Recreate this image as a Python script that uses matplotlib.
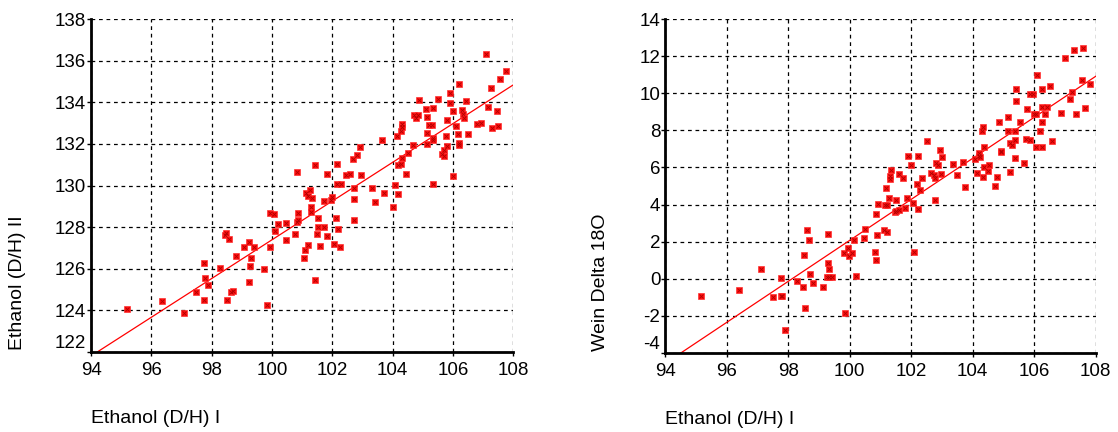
import matplotlib
matplotlib.use("Agg")
import matplotlib.pyplot as plt
import numpy as np

plt.rcParams['font.family'] = ['Liberation Sans', 'DejaVu Sans']
plt.rcParams['axes.unicode_minus'] = False

# Ethanol (D/H) I  vs  Ethanol (D/H) II
x_left = [95.18, 96.34, 97.09, 97.48, 97.74, 97.76, 97.78, 97.88, 98.27, 98.44,
          98.47, 98.50, 98.59, 98.64, 98.71, 98.80, 99.07, 99.23, 99.25, 99.26,
          99.30, 99.42, 99.75, 99.83, 99.93, 99.94, 100.07, 100.11, 100.19, 100.46,
          100.47, 100.78, 100.82, 100.86, 100.87, 100.82, 101.07, 101.11, 101.12, 101.19,
          101.21, 101.25, 101.29, 101.29, 101.34, 101.42, 101.43, 101.50, 101.53, 101.53,
          101.61, 101.72, 101.74, 101.82, 101.84, 101.95, 102.00, 102.05, 102.14, 102.15,
          102.17, 102.19, 102.27, 102.30, 102.46, 102.60, 102.69, 102.72, 102.72, 102.73,
          102.83, 102.91, 102.96, 103.32, 103.43, 103.65, 103.71, 104.03, 104.08, 104.14,
          104.18, 104.19, 104.27, 104.27, 104.31, 104.31, 104.31, 104.43, 104.50, 104.67,
          104.72, 104.79, 104.86, 104.87, 105.11, 105.13, 105.13, 105.14, 105.20, 105.30,
          105.33, 105.33, 105.35, 105.35, 105.51, 105.65, 105.69, 105.71, 105.77, 105.81,
          105.82, 105.90, 105.92, 106.02, 106.02, 106.10, 106.17, 106.20, 106.20, 106.20,
          106.31, 106.33, 106.36, 106.43, 106.50, 106.79, 106.93, 107.10, 107.17, 107.26,
          107.30, 107.47, 107.51, 107.57, 107.75]
y_left = [124.09, 124.44, 123.88, 124.91, 124.52, 126.29, 125.55, 125.21, 126.06, 127.62,
          127.70, 124.52, 127.43, 124.88, 124.94, 126.61, 127.03, 125.36, 127.27, 126.14,
          126.50, 127.06, 125.99, 124.28, 128.70, 127.06, 128.64, 127.80, 128.14, 128.20,
          127.38, 127.65, 128.25, 128.35, 128.70, 130.67, 126.53, 126.88, 129.63, 129.50,
          127.14, 129.79, 128.96, 128.71, 129.39, 125.47, 131.01, 127.65, 128.43, 128.02,
          127.09, 129.26, 127.99, 127.59, 130.56, 129.29, 129.44, 127.19, 128.42, 131.05,
          130.08, 127.93, 127.06, 130.08, 130.52, 130.54, 131.29, 129.34, 128.36, 129.90,
          131.45, 131.85, 130.52, 129.86, 129.23, 132.17, 129.66, 128.96, 130.03, 132.40,
          130.98, 129.57, 132.64, 131.03, 132.97, 132.83, 131.32, 130.54, 131.56, 131.93,
          133.39, 133.26, 133.39, 134.13, 133.66, 133.29, 132.01, 132.52, 132.93, 132.93,
          132.30, 130.08, 133.71, 132.17, 134.16, 131.51, 131.69, 131.41, 132.38, 131.88,
          133.17, 133.95, 134.43, 133.57, 130.48, 132.88, 132.46, 134.90, 132.04, 131.93,
          133.61, 133.45, 133.26, 134.05, 132.46, 132.97, 133.02, 136.30, 133.76, 134.67,
          132.75, 133.58, 132.84, 135.11, 135.48]

# Ethanol (D/H) I  vs  Wein Delta 18O
x_right = [95.18, 96.39, 97.12, 97.52, 97.76, 97.81, 97.78, 97.89, 98.29, 98.49,
           98.52, 98.54, 98.61, 98.69, 98.72, 98.81, 99.12, 99.27, 99.28, 99.28,
           99.34, 99.34, 99.44, 99.80, 99.85, 99.95, 99.97, 100.09, 100.15, 100.21,
           100.48, 100.49, 100.81, 100.85, 100.87, 100.88, 100.91, 101.11, 101.16, 101.18,
           101.22, 101.23, 101.29, 101.31, 101.31, 101.36, 101.49, 101.52, 101.52, 101.60,
           101.62, 101.73, 101.79, 101.86, 101.89, 101.99, 102.07, 102.09, 102.19, 102.23,
           102.23, 102.30, 102.34, 102.51, 102.65, 102.75, 102.76, 102.77, 102.80, 102.88,
           102.93, 102.97, 103.01, 103.36, 103.48, 103.70, 103.76, 104.09, 104.14, 104.19,
           104.21, 104.24, 104.30, 104.35, 104.35, 104.36, 104.36, 104.49, 104.54, 104.74,
           104.78, 104.85, 104.91, 104.92, 105.16, 105.16, 105.21, 105.21, 105.29, 105.37,
           105.37, 105.38, 105.41, 105.42, 105.55, 105.68, 105.75, 105.78, 105.85, 105.86,
           105.96, 105.99, 106.07, 106.07, 106.08, 106.18, 106.24, 106.24, 106.26, 106.27,
           106.36, 106.42, 106.52, 106.57, 106.87, 106.99, 107.16, 107.23, 107.30, 107.37,
           107.55, 107.59, 107.64, 107.82]
y_right = [-0.92, -0.60, 0.53, -0.98, -0.94, -0.94, 0.05, -2.76, -0.10, -0.46,
           1.28, -1.57, 2.63, 2.11, 0.28, -0.21, -0.42, 0.08, 2.43, 0.87,
           0.55, 0.08, 0.08, 1.39, -1.82, 1.64, 1.21, 1.38, 2.09, 0.17,
           2.18, 2.67, 1.45, 3.49, 1.03, 2.36, 4.03, 2.61, 3.96, 4.88,
           3.96, 2.54, 4.37, 5.52, 5.40, 5.86, 3.60, 3.66, 4.23, 3.71,
           5.67, 5.45, 3.80, 4.34, 6.60, 6.13, 4.10, 1.43, 5.13, 6.60,
           3.76, 4.80, 5.45, 7.43, 5.72, 5.58, 4.26, 5.42, 6.26, 6.13,
           6.94, 5.65, 6.56, 6.21, 5.58, 6.30, 4.93, 6.44, 5.69, 6.62,
           6.76, 6.58, 7.95, 8.16, 5.47, 7.12, 6.01, 5.83, 6.13, 4.99,
           5.47, 8.47, 6.89, 6.82, 8.70, 7.98, 7.30, 5.74, 7.21, 7.95,
           6.51, 7.48, 10.23, 9.57, 8.47, 6.22, 7.53, 9.15, 9.94, 7.48,
           9.94, 8.88, 8.90, 7.12, 10.97, 7.98, 8.43, 7.09, 10.23, 9.27,
           8.90, 9.27, 10.41, 7.43, 8.94, 11.92, 9.67, 10.07, 12.33, 8.86,
           10.71, 12.44, 9.19, 10.51]

x_ticks = [94, 96, 98, 100, 102, 104, 106, 108]
yticks_left = [122, 124, 126, 128, 130, 132, 134, 136, 138]
yticks_right = [-4, -2, 0, 2, 4, 6, 8, 10, 12, 14]

xlabel = "Ethanol (D/H) I"
ylabel_left = "Ethanol (D/H) II"
ylabel_right = "Wein Delta 18O"


def draw_panel(ax, x, y, yticks, ylab, ylab_x):
    x = np.array(x)
    y = np.array(y)
    ax.set_xlim(x_ticks[0], x_ticks[-1])
    ax.set_ylim(yticks[0], yticks[-1])
    ax.set_xticks(x_ticks)
    ax.set_yticks(yticks)
    ax.grid(True, color='k', linestyle=(0, (3, 3)), linewidth=0.9)
    ax.set_axisbelow(True)
    for side in ['top', 'right']:
        ax.spines[side].set_visible(False)
    for side in ['left', 'bottom']:
        ax.spines[side].set_linewidth(2)
    ax.tick_params(direction='out', length=3, width=1, labelsize=13.5)
    ax.tick_params(axis='x', pad=4)
    ax.tick_params(axis='y', pad=0.5)

    # regression line
    b, a = np.polyfit(x, y, 1)
    xs = np.array([x_ticks[0], x_ticks[-1]])
    ax.plot(xs, a + b * xs, color='red', linewidth=0.9, clip_on=True)

    ax.plot(x, y, linestyle='none', marker='s', markersize=4,
            markerfacecolor='#ff1010', markeredgecolor='#ff3030', markeredgewidth=0.5)
    ax.plot(x, y, linestyle='none', marker='x', markersize=2.2,
            color='#b00000', markeredgewidth=0.6)

    # lowest y label sits above the x axis
    labs = ax.get_yticklabels()
    labs[0].set_verticalalignment('bottom')

    ax.set_xlabel(xlabel, fontsize=14, ha='left', va='center')
    ax.xaxis.set_label_coords(0, -0.198)
    ax.set_ylabel(ylab, fontsize=14, ha='left', va='center')
    ax.yaxis.set_label_coords(ylab_x, 0.005)


fig = plt.figure(figsize=(11.18, 4.32), dpi=100)
ax1 = fig.add_axes([0.0814, 0.185, 0.3776, 0.771])
ax2 = fig.add_axes([0.595, 0.183, 0.385, 0.773])

draw_panel(ax1, x_left, y_left, yticks_left, ylabel_left, -0.173)
draw_panel(ax2, x_right, y_right, yticks_right, ylabel_right, -0.151)

fig.savefig("out.png", dpi=100)
